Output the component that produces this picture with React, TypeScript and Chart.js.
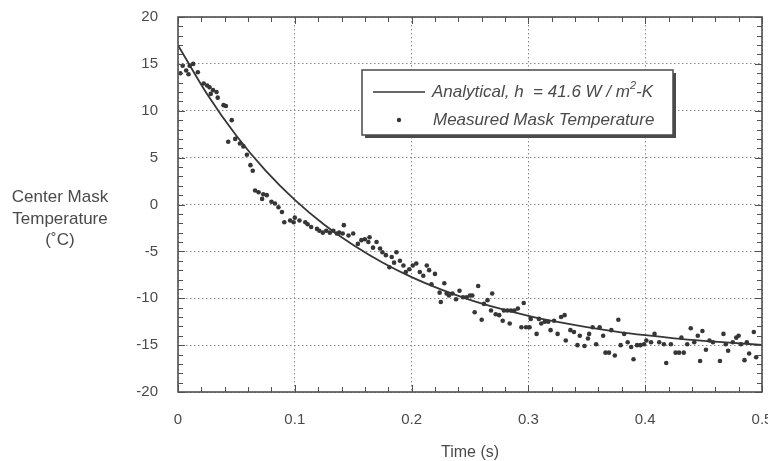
import React, { useEffect, useRef } from 'react';
import { Chart, registerables } from 'chart.js';

Chart.register(...registerables);

// ---- Data ----
const curveTime = [0, 0.025, 0.05, 0.075, 0.1, 0.125, 0.15, 0.175, 0.2, 0.225, 0.25, 0.275, 0.3, 0.325, 0.35, 0.375, 0.4, 0.425, 0.45, 0.475, 0.5];
const curveTemp = [17, 11.75, 7.33, 3.62, 0.5, -2.13, -4.33, -6.19, -7.75, -9.06, -10.17, -11.09, -11.88, -12.53, -13.08, -13.55, -13.94, -14.27, -14.54, -14.77, -14.97];

const measuredTime = [
  0.002, 0.004, 0.007, 0.009, 0.010, 0.013, 0.017, 0.022, 0.025, 0.027, 0.028, 0.030, 0.033, 0.034, 0.039, 0.041, 0.043, 0.046, 0.049, 0.053,
  0.056, 0.059, 0.062, 0.064, 0.066, 0.069, 0.072, 0.073, 0.076, 0.080, 0.083, 0.086, 0.089, 0.091, 0.096, 0.099, 0.100,
  0.104, 0.109, 0.111, 0.114, 0.119, 0.121, 0.124, 0.127, 0.130, 0.133, 0.136, 0.138, 0.141, 0.142, 0.146, 0.150, 0.154, 0.157, 0.160, 0.163,
  0.164, 0.167, 0.170, 0.173, 0.175, 0.178, 0.181, 0.183, 0.185, 0.187, 0.190, 0.193, 0.195, 0.198,
  0.201, 0.204, 0.207, 0.210, 0.213, 0.215, 0.217, 0.220, 0.224, 0.225, 0.228, 0.230, 0.232, 0.235, 0.238, 0.241, 0.244, 0.247, 0.250, 0.252,
  0.254, 0.257, 0.260, 0.262, 0.265, 0.268, 0.269, 0.272, 0.275, 0.278, 0.279, 0.282, 0.284, 0.285, 0.288, 0.291, 0.294, 0.296, 0.298,
  0.301, 0.302, 0.307, 0.309, 0.311, 0.314, 0.317, 0.319, 0.322, 0.325, 0.328, 0.331, 0.332, 0.336, 0.339, 0.342, 0.344, 0.348, 0.351, 0.352,
  0.355, 0.358, 0.361, 0.364, 0.366, 0.369, 0.371, 0.374, 0.377, 0.379, 0.382, 0.385, 0.388, 0.390, 0.393, 0.396, 0.399,
  0.401, 0.405, 0.408, 0.412, 0.416, 0.418, 0.422, 0.426, 0.429, 0.431, 0.433, 0.436, 0.439, 0.442, 0.445, 0.447, 0.449, 0.452, 0.455, 0.458,
  0.464, 0.467, 0.469, 0.471, 0.475, 0.478, 0.480, 0.482, 0.485, 0.487, 0.489, 0.493, 0.495,
];
const measuredTemp = [
  14.0, 14.8, 14.3, 13.9, 14.8, 15.0, 14.1, 12.9, 12.7, 12.5, 11.8, 12.2, 12.0, 11.4, 10.6, 10.5, 6.7, 9.0, 7.0, 6.5,
  6.2, 5.3, 4.2, 3.6, 1.5, 1.3, 0.6, 1.1, 1.0, 0.3, 0.1, -0.3, -0.8, -1.9, -1.7, -1.9, -1.4,
  -1.7, -1.9, -2.1, -2.4, -2.6, -2.8, -3.0, -2.8, -3.0, -2.8, -3.1, -3.0, -3.1, -2.2, -3.3, -3.1, -4.2, -3.8, -3.7, -4.0,
  -3.5, -4.6, -4.0, -4.7, -5.1, -5.4, -6.7, -5.6, -6.2, -5.1, -6.0, -6.5, -7.2, -6.9,
  -6.5, -6.3, -7.2, -7.6, -6.5, -7.0, -8.5, -7.4, -9.4, -10.4, -8.4, -9.5, -9.7, -9.5, -10.1, -9.2, -9.9, -9.9, -9.7, -9.7,
  -11.5, -8.7, -12.3, -10.6, -10.2, -11.3, -9.5, -11.7, -11.8, -12.4, -11.3, -11.3, -12.7, -11.3, -11.3, -11.1, -13.1, -10.5, -13.1,
  -13.1, -12.2, -13.8, -12.2, -12.7, -12.5, -12.5, -13.4, -12.4, -13.8, -12.0, -11.8, -14.5, -13.4, -13.6, -15.0, -14.0, -15.1, -14.3, -13.8,
  -13.1, -14.9, -13.1, -14.0, -15.8, -15.8, -13.4, -16.1, -12.3, -15.0, -13.8, -14.7, -15.2, -16.5, -15.0, -15.0, -14.9,
  -14.5, -14.7, -13.8, -14.7, -14.9, -16.9, -14.9, -15.8, -15.8, -14.2, -15.8, -14.9, -13.2, -14.7, -14.0, -16.7, -13.5, -15.5, -14.5, -14.7,
  -16.7, -13.8, -14.9, -15.6, -14.7, -14.2, -14.0, -14.9, -16.6, -14.7, -15.9, -13.6, -16.3,
];

const xMin = 0;
const xMax = 0.5;
const xStep = 0.1;
const xMinorStep = 0.02;
const yMin = -20;
const yMax = 20;
const yStep = 5;
const yMinorStep = 1;

const xTitle = 'Time (s)';
const yTitleLines = ['Center Mask', 'Temperature', '(˚C)'];
const legendLine1 = ['Analytical, ', 'h', '  = 41.6 W / m', '2', '-K'];
const legendLine2 = 'Measured Mask Temperature';

const FONT = '"Liberation Sans", Arial, sans-serif';
const TEXT = '#4a4a4a';
const INK = '#363636';

const framePlugin = {
  id: 'frameAndTicks',
  afterDatasetsDraw(chart: any) {
    const { ctx, chartArea: a, scales } = chart;
    const x = scales.x;
    const y = scales.y;
    ctx.save();
    ctx.strokeStyle = '#505050';
    ctx.lineWidth = 1;
    const line = (x1: number, y1: number, x2: number, y2: number) => {
      ctx.beginPath();
      ctx.moveTo(x1, y1);
      ctx.lineTo(x2, y2);
      ctx.stroke();
    };
    const nx = Math.round((xMax - xMin) / xMinorStep);
    for (let i = 0; i <= nx; i++) {
      const v = xMin + i * xMinorStep;
      const px = Math.round(x.getPixelForValue(v)) + 0.5;
      const len = i % 5 === 0 ? 7 : 5;
      line(px, a.bottom, px, a.bottom - len);
      line(px, a.top, px, a.top + len);
    }
    const ny = Math.round((yMax - yMin) / yMinorStep);
    for (let i = 0; i <= ny; i++) {
      const v = yMin + i * yMinorStep;
      const py = Math.round(y.getPixelForValue(v)) + 0.5;
      const len = i % 5 === 0 ? 7 : 5;
      line(a.left, py, a.left + len, py);
      line(a.right, py, a.right - len, py);
    }
    ctx.lineWidth = 1.6;
    ctx.strokeRect(a.left, a.top, a.right - a.left, a.bottom - a.top);
    ctx.restore();
  },
  afterDraw(chart: any) {
    const { ctx, chartArea: a } = chart;
    ctx.save();
    // y title (horizontal, three lines)
    ctx.fillStyle = TEXT;
    ctx.font = `17px ${FONT}`;
    ctx.textAlign = 'center';
    ctx.textBaseline = 'alphabetic';
    yTitleLines.forEach((t, i) => ctx.fillText(t, 60, 202 + i * 21.5));
    // x title
    ctx.font = `16px ${FONT}`;
    ctx.textBaseline = 'middle';
    ctx.fillText(xTitle, (a.left + a.right) / 2, 453);

    // legend box
    const bx = a.left + 184;
    const by = a.top + 53;
    const bw = 311;
    const bh = 65;
    ctx.fillStyle = '#4a4a4a';
    ctx.fillRect(bx + 3, by + 3, bw, bh);
    ctx.fillStyle = '#ffffff';
    ctx.fillRect(bx, by, bw, bh);
    ctx.strokeStyle = '#4a4a4a';
    ctx.lineWidth = 1.5;
    ctx.strokeRect(bx, by, bw, bh);

    // row 1
    const r1 = by + 22;
    ctx.strokeStyle = INK;
    ctx.lineWidth = 1.6;
    ctx.beginPath();
    ctx.moveTo(bx + 11, r1);
    ctx.lineTo(bx + 63, r1);
    ctx.stroke();
    ctx.fillStyle = TEXT;
    ctx.textAlign = 'left';
    ctx.textBaseline = 'middle';
    let tx = bx + 70;
    legendLine1.forEach((seg, i) => {
      if (i === 3) {
        ctx.font = `italic 11px ${FONT}`;
        ctx.fillText(seg, tx, r1 - 6);
      } else {
        ctx.font = `italic 17px ${FONT}`;
        ctx.fillText(seg, tx, r1);
      }
      tx += ctx.measureText(seg).width;
    });

    // row 2
    const r2 = by + 50;
    ctx.fillStyle = INK;
    ctx.beginPath();
    ctx.arc(bx + 37, r2, 2.2, 0, Math.PI * 2);
    ctx.fill();
    ctx.fillStyle = TEXT;
    ctx.font = `italic 17px ${FONT}`;
    ctx.fillText(legendLine2, bx + 71, r2);
    ctx.restore();
  },
};

export default function App() {
  const ref = useRef<HTMLCanvasElement | null>(null);
  useEffect(() => {
    if (!ref.current) return;
    const chart = new Chart(ref.current, {
      type: 'scatter',
      data: {
        datasets: [
          {
            label: 'Analytical',
            data: curveTime.map((t, i) => ({ x: t, y: curveTemp[i] })),
            showLine: true,
            borderColor: INK,
            borderWidth: 1.8,
            pointRadius: 0,
            cubicInterpolationMode: 'monotone',
            order: 1,
          } as any,
          {
            label: 'Measured Mask Temperature',
            data: measuredTime.map((t, i) => ({ x: t, y: measuredTemp[i] })),
            showLine: false,
            backgroundColor: INK,
            borderColor: INK,
            borderWidth: 0,
            pointRadius: 2.3,
            order: 0,
          } as any,
        ],
      },
      options: {
        responsive: false,
        animation: false,
        layout: { padding: { left: 0, right: 6, top: 17, bottom: 0 } },
        plugins: { legend: { display: false }, tooltip: { enabled: false } },
        scales: {
          x: {
            type: 'linear',
            min: xMin,
            max: xMax,
            afterFit: (s: any) => {
              s.height = 69;
              s.paddingLeft = 0;
              s.paddingRight = 0;
            },
            ticks: {
              stepSize: xStep,
              padding: 19,
              color: TEXT,
              font: { family: FONT, size: 15 },
              maxRotation: 0,
              autoSkip: false,
              callback: (v: any) => String(+Number(v).toFixed(1)),
            },
            grid: { color: '#8a8a8a', lineWidth: 1, drawTicks: false },
            border: { display: false, dash: [1.5, 2.5] },
          },
          y: {
            type: 'linear',
            min: yMin,
            max: yMax,
            afterFit: (s: any) => {
              s.width = 178;
              s.paddingTop = 0;
              s.paddingBottom = 0;
            },
            ticks: {
              stepSize: yStep,
              padding: 20,
              color: TEXT,
              font: { family: FONT, size: 15 },
            },
            grid: { color: '#8a8a8a', lineWidth: 1, drawTicks: false },
            border: { display: false, dash: [1.5, 2.5] },
          },
        },
      } as any,
      plugins: [framePlugin],
    });
    return () => chart.destroy();
  }, []);
  return (
    <div style={{ position: 'fixed', left: 0, top: 0, width: 768, height: 461, background: '#fff' }}>
      <canvas ref={ref} width={768} height={461} style={{ display: 'block' }} />
    </div>
  );
}
